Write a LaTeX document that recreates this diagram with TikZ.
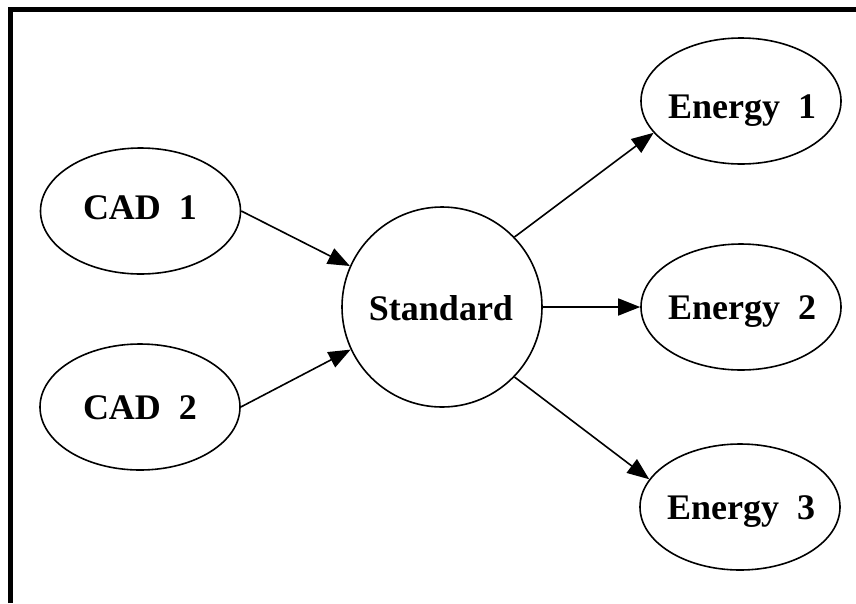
\documentclass[tikz,border=0pt]{standalone}
\usepackage{fontspec}
\setmainfont{Liberation Serif}
\usetikzlibrary{shapes.geometric,arrows.meta}
\begin{document}
\begin{tikzpicture}[x=1pt,y=-1pt,
  oval/.style={draw, ellipse, line width=1.6pt, minimum width=200pt, minimum height=126pt, inner sep=0pt},
  hub/.style={draw, circle, line width=1.6pt, minimum size=200pt, inner sep=0pt},
  lbl/.style={anchor=base, font=\bfseries\fontsize{36}{40}\selectfont, inner sep=0pt},
  arr/.style={line width=1.6pt, -{Triangle[length=22pt,width=17pt]}},
  framestyle/.style={line width=5pt, line join=miter}]
\useasboundingbox (0,0) rectangle (856,603);
% frame (left and top edges visible)
\coordinate (fb) at (10.5,603);
\coordinate (fc) at (10.5,9.5);
\coordinate (fr) at (856,9.5);
\draw[framestyle] (fb) -- (fc) -- (fr);
% shapes
\node[oval] (cad1) at (140.5,211) {};
\node[oval] (cad2) at (140,407) {};
\node[hub]  (std)  at (442,307) {};
\node[oval] (e1) at (741,101) {};
\node[oval] (e2) at (741,307) {};
\node[oval] (e3) at (740,507) {};
% labels
\node[lbl] (tcad1) at (140,219) {CAD\hspace{0.5em}1};
\node[lbl] (tcad2) at (140,419) {CAD\hspace{0.5em}2};
\node[lbl] (tstd)  at (441,320) {Standard};
\node[lbl] (te1) at (742,118) {Energy\hspace{0.5em}1};
\node[lbl] (te2) at (742,319) {Energy\hspace{0.5em}2};
\node[lbl] (te3) at (741,519) {Energy\hspace{0.5em}3};
% connectors
\draw[arr] (cad1.east) -- (std.156.5);
\draw[arr] (cad2.east) -- (std.205.8);
\draw[arr] (std.44.6) -- (e1.200);
\draw[arr] (std.east) -- (e2.west);
\draw[arr] (std.-44.6) -- (e3.163);
\end{tikzpicture}
\end{document}
